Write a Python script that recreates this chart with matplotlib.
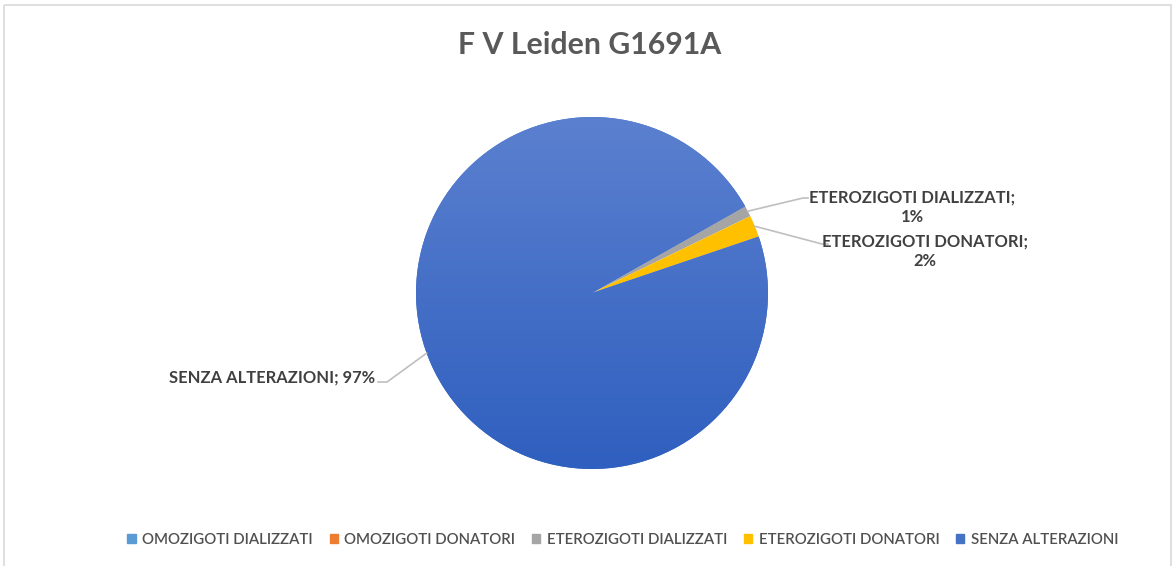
import matplotlib.pyplot as plt
import numpy as np
from matplotlib.patches import Rectangle
from matplotlib.lines import Line2D
from matplotlib.transforms import Affine2D
from matplotlib.colors import LinearSegmentedColormap

categories = ['OMOZIGOTI DIALIZZATI', 'OMOZIGOTI DONATORI', 'ETEROZIGOTI DIALIZZATI',
              'ETEROZIGOTI DONATORI', 'SENZA ALTERAZIONI']
percent = [0, 0, 1, 2, 97]
colors = ['#5B9BD5', '#ED7D31', '#A5A5A5', '#FFC000', '#4472C4']

W, H = 1175, 566
fig = plt.figure(figsize=(W / 100, H / 100), dpi=100)
plt.rcParams['font.family'] = ['Lato', 'DejaVu Sans']

# pixel coordinates, origin top-left
px = Affine2D().scale(1 / W, -1 / H).translate(0, 1) + fig.transFigure

# chart border
fig.patches.append(Rectangle((4, 5), 1167, 570, transform=px, fill=False,
                             edgecolor='#d9d9d9', linewidth=1.2))

cx, cy, r = 592, 293, 176
ax = fig.add_axes([(cx - r) / W, (H - cy - r) / H, 2 * r / W, 2 * r / H])
wedges, _ = ax.pie(percent, colors=colors, startangle=29.5, counterclock=False,
                   radius=1, wedgeprops=dict(linewidth=0))

# soft vertical gradient on the big slice (lighter at the top)
grad = np.linspace(0, 1, 256).reshape(-1, 1)
cmap = LinearSegmentedColormap.from_list('g', ['#5B80CF', '#2F5FBF'])
img = ax.imshow(grad, extent=[-1, 1, -1, 1], origin='upper', cmap=cmap,
                aspect='auto', zorder=3)
img.set_clip_path(wedges[4])
ax.set_xlim(-1, 1)
ax.set_ylim(-1, 1)
ax.axis('off')

fig.text(590, 45, 'F V Leiden G1691A', transform=px, ha='center', va='center',
         fontsize=21.8, fontweight='bold', color='#595959')


def edge_point(w):
    mid = np.deg2rad((w.theta1 + w.theta2) / 2)
    return cx + r * np.cos(mid), cy - r * np.sin(mid)


lab_color = '#404040'
line_color = '#BFBFBF'
lab_size = 11.9

# data labels with leader lines
x0, y0 = edge_point(wedges[2])
fig.lines.append(Line2D([x0, 803, 808], [y0, 198, 198], transform=px, color=line_color, lw=1.2))
fig.text(912, 207, f'{categories[2]};\n{percent[2]}%', transform=px, ha='center', va='center',
         fontsize=lab_size, fontweight='bold', color=lab_color, linespacing=1.3)

x0, y0 = edge_point(wedges[3])
fig.lines.append(Line2D([x0, 822, 828], [y0, 244, 244], transform=px, color=line_color, lw=1.2))
fig.text(925, 251, f'{categories[3]};\n{percent[3]}%', transform=px, ha='center', va='center',
         fontsize=lab_size, fontweight='bold', color=lab_color, linespacing=1.3)

x0, y0 = cx + r * np.cos(np.deg2rad(200)), cy - r * np.sin(np.deg2rad(200))
fig.lines.append(Line2D([x0, 387, 378], [y0, 382, 382], transform=px, color=line_color, lw=1.2))
fig.text(375, 378, f'{categories[4]}; {percent[4]}%', transform=px, ha='right', va='center',
         fontsize=lab_size, fontweight='bold', color=lab_color)

handles = [Rectangle((0, 0), 1, 1, color=c) for c in colors]
fig.legend(handles, categories, loc='center', bbox_to_anchor=(623 / W, 1 - 540 / H), ncol=5,
           frameon=False, prop=dict(size=10.8, weight='semibold'), labelcolor='#505050',
           handlelength=0.55, handleheight=0.55, handletextpad=0.45, columnspacing=1.1)

fig.savefig('out.png', dpi=100)
